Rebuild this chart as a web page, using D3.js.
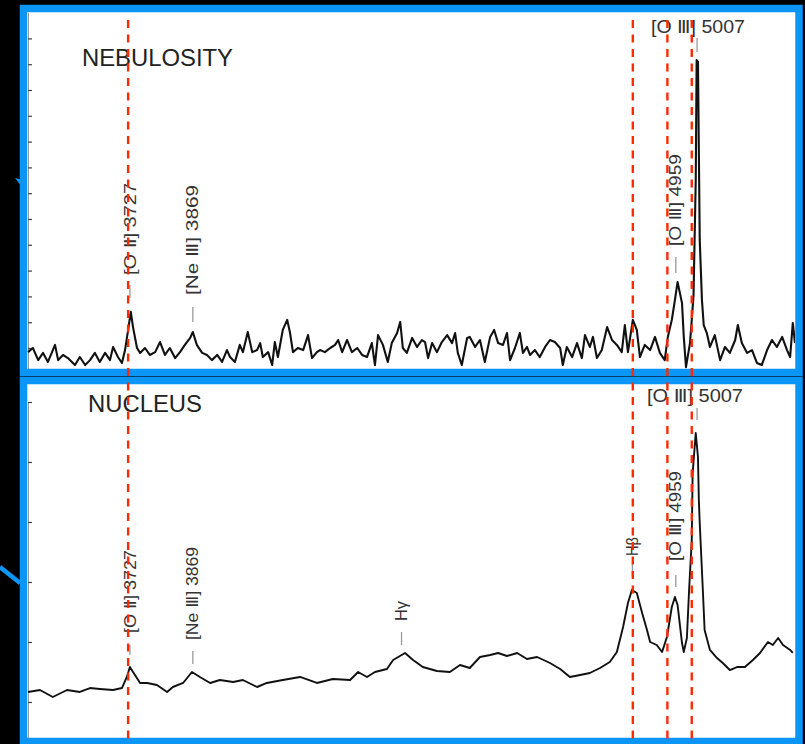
<!DOCTYPE html>
<html>
<head>
<meta charset="utf-8">
<script src="https://cdn.jsdelivr.net/npm/d3@7"></script>
<style>
html, body { margin: 0; padding: 0; background: #000; }
svg { display: block; }
</style>
</head>
<body>
<svg id="chart"></svg>
<script>
/* eslint-env browser */
/* global d3 */

// [wavelength in Angstrom, relative flux]
var nebulaSpectrum = [
    [3497,0.84],[3508,1.00],[3520,0.53],[3531,0.81],[3542,0.46],[3558,1.12],[3565,0.53],[3576,0.73],
    [3587,0.61],[3603,0.34],[3614,0.65],[3626,0.34],[3637,0.53],[3648,0.81],[3659,0.46],[3671,0.81],
    [3682,0.53],[3689,1.04],[3700,0.65],[3709,0.42],[3716,0.92],[3723,1.70],[3729,2.40],[3734,1.81],
    [3743,1.00],[3750,0.81],[3761,1.00],[3772,0.73],[3784,0.84],[3795,1.23],[3806,0.73],[3817,1.00],
    [3829,0.61],[3840,0.84],[3851,1.12],[3863,1.39],[3869,1.62],[3878,1.12],[3890,0.81],[3901,0.73],
    [3912,0.53],[3924,0.73],[3935,0.46],[3946,0.92],[3953,0.65],[3964,0.46],[3975,1.12],[3982,0.84],
    [3993,1.62],[4003,0.84],[4014,0.92],[4021,1.19],[4027,0.65],[4039,0.84],[4048,0.34],[4054,1.23],
    [4061,0.65],[4072,1.70],[4082,2.09],[4088,1.62],[4095,0.84],[4106,1.00],[4118,0.92],[4129,1.50],
    [4138,0.61],[4149,0.84],[4156,0.92],[4167,0.84],[4179,1.00],[4190,1.12],[4197,1.31],[4206,0.84],
    [4217,1.31],[4228,0.84],[4240,1.00],[4251,0.73],[4262,0.65],[4273,1.19],[4280,0.34],[4287,1.50],
    [4298,1.12],[4309,0.46],[4318,1.19],[4330,1.58],[4337,2.01],[4343,1.00],[4352,0.81],[4364,1.39],
    [4375,1.04],[4386,1.31],[4393,1.23],[4400,0.61],[4409,1.19],[4420,0.84],[4431,1.23],[4443,1.50],
    [4454,1.19],[4461,1.58],[4467,0.81],[4476,0.34],[4488,1.39],[4494,1.43],[4506,1.04],[4517,1.31],
    [4528,0.46],[4540,1.43],[4549,1.70],[4558,1.19],[4569,1.12],[4578,1.58],[4585,0.53],[4596,1.00],
    [4607,1.58],[4614,0.81],[4623,1.04],[4630,0.73],[4641,0.92],[4652,0.65],[4664,1.04],[4675,1.31],
    [4686,1.23],[4698,1.00],[4704,0.34],[4713,1.04],[4725,0.65],[4736,1.19],[4747,0.61],[4754,1.50],
    [4765,1.04],[4772,1.43],[4781,0.61],[4792,0.92],[4804,1.81],[4815,1.31],[4826,1.12],[4837,0.84],
    [4844,1.89],[4851,0.84],[4862,2.09],[4871,1.70],[4878,0.65],[4889,1.12],[4901,0.92],[4912,1.43],
    [4923,0.81],[4934,0.53],[4941,1.43],[4950,2.09],[4957,2.86],[4963,3.56],[4973,2.74],[4977,1.43],
    [4982,0.26],[4991,1.19],[4995,2.09],[4999,3.05],[5004,7.51],[5006,12.16],[5009,12.09],[5011,8.67],
    [5013,5.19],[5018,2.86],[5022,1.89],[5029,1.58],[5036,1.04],[5047,1.50],[5059,0.53],[5070,1.04],
    [5081,0.81],[5093,1.31],[5099,1.89],[5108,1.19],[5120,0.81],[5131,0.92],[5142,0.42],[5153,0.34],
    [5165,0.92],[5176,1.31],[5187,1.04],[5199,1.43],[5210,0.92],[5217,0.65],[5223,1.97],[5228,1.19]
];

var nucleusSpectrum = [
    [3497,1.167],[3524,1.200],[3553,1.083],[3585,1.200],[3614,1.167],[3637,1.233],[3659,1.217],[3689,1.200],
    [3709,1.233],[3720,1.417],[3727,1.583],[3734,1.500],[3750,1.317],[3766,1.317],[3788,1.283],[3811,1.167],
    [3824,1.250],[3847,1.317],[3867,1.500],[3885,1.417],[3908,1.317],[3930,1.367],[3960,1.333],[3982,1.367],
    [4014,1.250],[4036,1.317],[4072,1.367],[4111,1.417],[4149,1.317],[4185,1.383],[4224,1.367],[4242,1.500],
    [4262,1.417],[4280,1.500],[4307,1.550],[4321,1.700],[4348,1.817],[4366,1.700],[4388,1.583],[4420,1.517],
    [4449,1.500],[4472,1.617],[4494,1.567],[4517,1.750],[4540,1.783],[4558,1.817],[4578,1.767],[4601,1.817],
    [4623,1.717],[4646,1.750],[4675,1.650],[4698,1.550],[4720,1.417],[4743,1.450],[4765,1.483],[4788,1.567],
    [4810,1.667],[4826,1.833],[4840,2.250],[4851,2.650],[4860,2.867],[4871,2.817],[4883,2.483],[4894,2.200],
    [4901,2.000],[4916,1.950],[4928,1.833],[4939,2.083],[4950,2.583],[4957,2.750],[4963,2.617],[4973,1.983],
    [4977,1.833],[4984,2.067],[4989,2.867],[4995,3.700],[4997,4.817],[5004,5.483],[5009,5.083],[5011,4.367],
    [5013,3.983],[5020,2.867],[5024,2.200],[5036,1.867],[5052,1.733],[5065,1.650],[5081,1.533],[5097,1.583],
    [5115,1.583],[5133,1.700],[5149,1.817],[5167,2.000],[5178,1.950],[5190,2.067],[5201,1.950],[5217,1.867],
    [5223,1.817]
];

var guideWavelengths = [3723, 4862, 4940, 4995];
var nebulaTicks = [1, 2, 3, 4, 5, 6, 7, 8, 9, 10, 11, 12, 13];
var nucleusTicks = [1, 2, 3, 4, 5, 6];

var nebulaLabels = [
    { text: "[O Ⅱ] 3727", wave: 3727 },
    { text: "[Ne Ⅲ] 3869", wave: 3869 },
    { text: "[O Ⅲ] 4959", wave: 4959 },
    { text: "[O Ⅲ] 5007", wave: 5007 }
];
var nucleusLabels = [
    { text: "[O Ⅱ] 3727", wave: 3727 },
    { text: "[Ne Ⅲ] 3869", wave: 3869 },
    { text: "Hγ", wave: 4340 },
    { text: "Hβ", wave: 4861 },
    { text: "[O Ⅲ] 4959", wave: 4959 },
    { text: "[O Ⅲ] 5007", wave: 5007 }
];

var SpectrumChart = (function () {
    var width = 805,
        height = 744,
        blue = "#0a95f7",
        font = "'Liberation Sans', Arial, 'DejaVu Sans', sans-serif",
        xScale = d3.scaleLinear().domain([3497, 5228]).range([28, 795]);

    // label layout: [bottom of text, text length, tick top, tick bottom]; horizontal ones add x start
    var panels = [
        {
            id: "neb", title: "NEBULOSITY", titleX: 82, titleY: 66, titleLen: 151, stroke: 2.1,
            top: 12, bottom: 369, frame: [8.5, 372.5],
            y: d3.scaleLinear().domain([0, 14]).range([373.8, 12.6]),
            ticks: nebulaTicks, data: nebulaSpectrum, labels: nebulaLabels,
            layout: [[275, 92, 285, 298], [295, 110, 307, 322], [246, 92, 257, 273], [33, 94, 38, 52, 651]]
        },
        {
            id: "nuc", title: "NUCLEUS", titleX: 88, titleY: 412, titleLen: 114, stroke: 1.9,
            top: 384, bottom: 738, frame: [380.5, 741.5],
            y: d3.scaleLinear().domain([0, 6]).range([762, 402]),
            ticks: nucleusTicks, data: nucleusSpectrum, labels: nucleusLabels,
            layout: [[633, 83, 645, 655], [640, 93, 651, 664], [621, 20, 632, 645], [556, 19, 563, 576],
                     [561, 90, 575, 587], [402, 96, 408, 420, 647]]
        }
    ];

    function draw() {
        var svg = d3.select("#chart").attr("width", width).attr("height", height);
        svg.append("rect").attr("width", width).attr("height", height).attr("fill", "#000");

        // stray blue pen marks on the left margin
        svg.append("path").attr("d", "M15,178L23,180L22,187Z").attr("fill", blue);
        svg.append("line").attr("x1", 0).attr("y1", 567).attr("x2", 20).attr("y2", 583)
            .attr("stroke", blue).attr("stroke-width", 4.5);

        panels.forEach(function (p) {
            var g = svg.append("g");
            g.append("rect").attr("x", 23.5).attr("y", p.frame[0]).attr("width", 775.5)
                .attr("height", p.frame[1] - p.frame[0]).attr("fill", "#fff");

            svg.append("clipPath").attr("id", "clip-" + p.id).append("rect")
                .attr("x", 27).attr("y", p.top).attr("width", 768).attr("height", p.bottom - p.top);

            g.append("g").attr("transform", "translate(28,0)")
                .call(d3.axisRight(p.y).tickValues(p.ticks).tickSize(4).tickSizeOuter(0).tickFormat(""))
                .call(function (a) {
                    a.select(".domain").attr("stroke", "#999");
                    a.selectAll(".tick line").attr("stroke", "#444").attr("stroke-width", 1.2);
                });

            g.append("text").attr("x", p.titleX).attr("y", p.titleY).text(p.title)
                .attr("font-family", font).attr("font-size", 24).attr("fill", "#222")
                .attr("textLength", p.titleLen).attr("lengthAdjust", "spacingAndGlyphs");

            var line = d3.line().x(function (d) { return xScale(d[0]); }).y(function (d) { return p.y(d[1]); });
            g.append("path").datum(p.data).attr("d", line).attr("clip-path", "url(#clip-" + p.id + ")")
                .attr("fill", "none").attr("stroke", "#111").attr("stroke-width", p.stroke)
                .attr("stroke-linejoin", "round");

            p.labels.forEach(function (lab, i) {
                var L = p.layout[i], x = xScale(lab.wave);
                g.append("line").attr("x1", x).attr("x2", x).attr("y1", L[2]).attr("y2", L[3])
                    .attr("stroke", "#999").attr("stroke-width", 1.3);
                if (L.length > 4) {
                    g.append("text").attr("x", L[4]).attr("y", L[0]).text(lab.text)
                        .attr("font-family", font).attr("font-size", 18).attr("fill", "#333")
                        .attr("textLength", L[1]).attr("lengthAdjust", "spacingAndGlyphs");
                } else {
                    g.append("text").attr("transform", "translate(" + x + "," + L[0] + ") rotate(-90)")
                        .attr("dy", "0.35em").text(lab.text)
                        .attr("font-family", font).attr("font-size", 16).attr("fill", "#333")
                        .attr("textLength", L[1]).attr("lengthAdjust", "spacingAndGlyphs");
                }
            });

            g.append("rect").attr("x", 23.5).attr("y", p.frame[0]).attr("width", 775.5)
                .attr("height", p.frame[1] - p.frame[0]).attr("fill", "none")
                .attr("stroke", blue).attr("stroke-width", 7.5);
        });

        svg.append("g").selectAll("line").data(guideWavelengths).enter().append("line")
            .attr("x1", function (d) { return xScale(d); }).attr("x2", function (d) { return xScale(d); })
            .attr("y1", 20).attr("y2", height)
            .attr("stroke", "#ff2a00").attr("stroke-width", 2.4).attr("stroke-dasharray", "8,6.5");
    }

    return { draw: draw };
})();

SpectrumChart.draw();
</script>
</body>
</html>
